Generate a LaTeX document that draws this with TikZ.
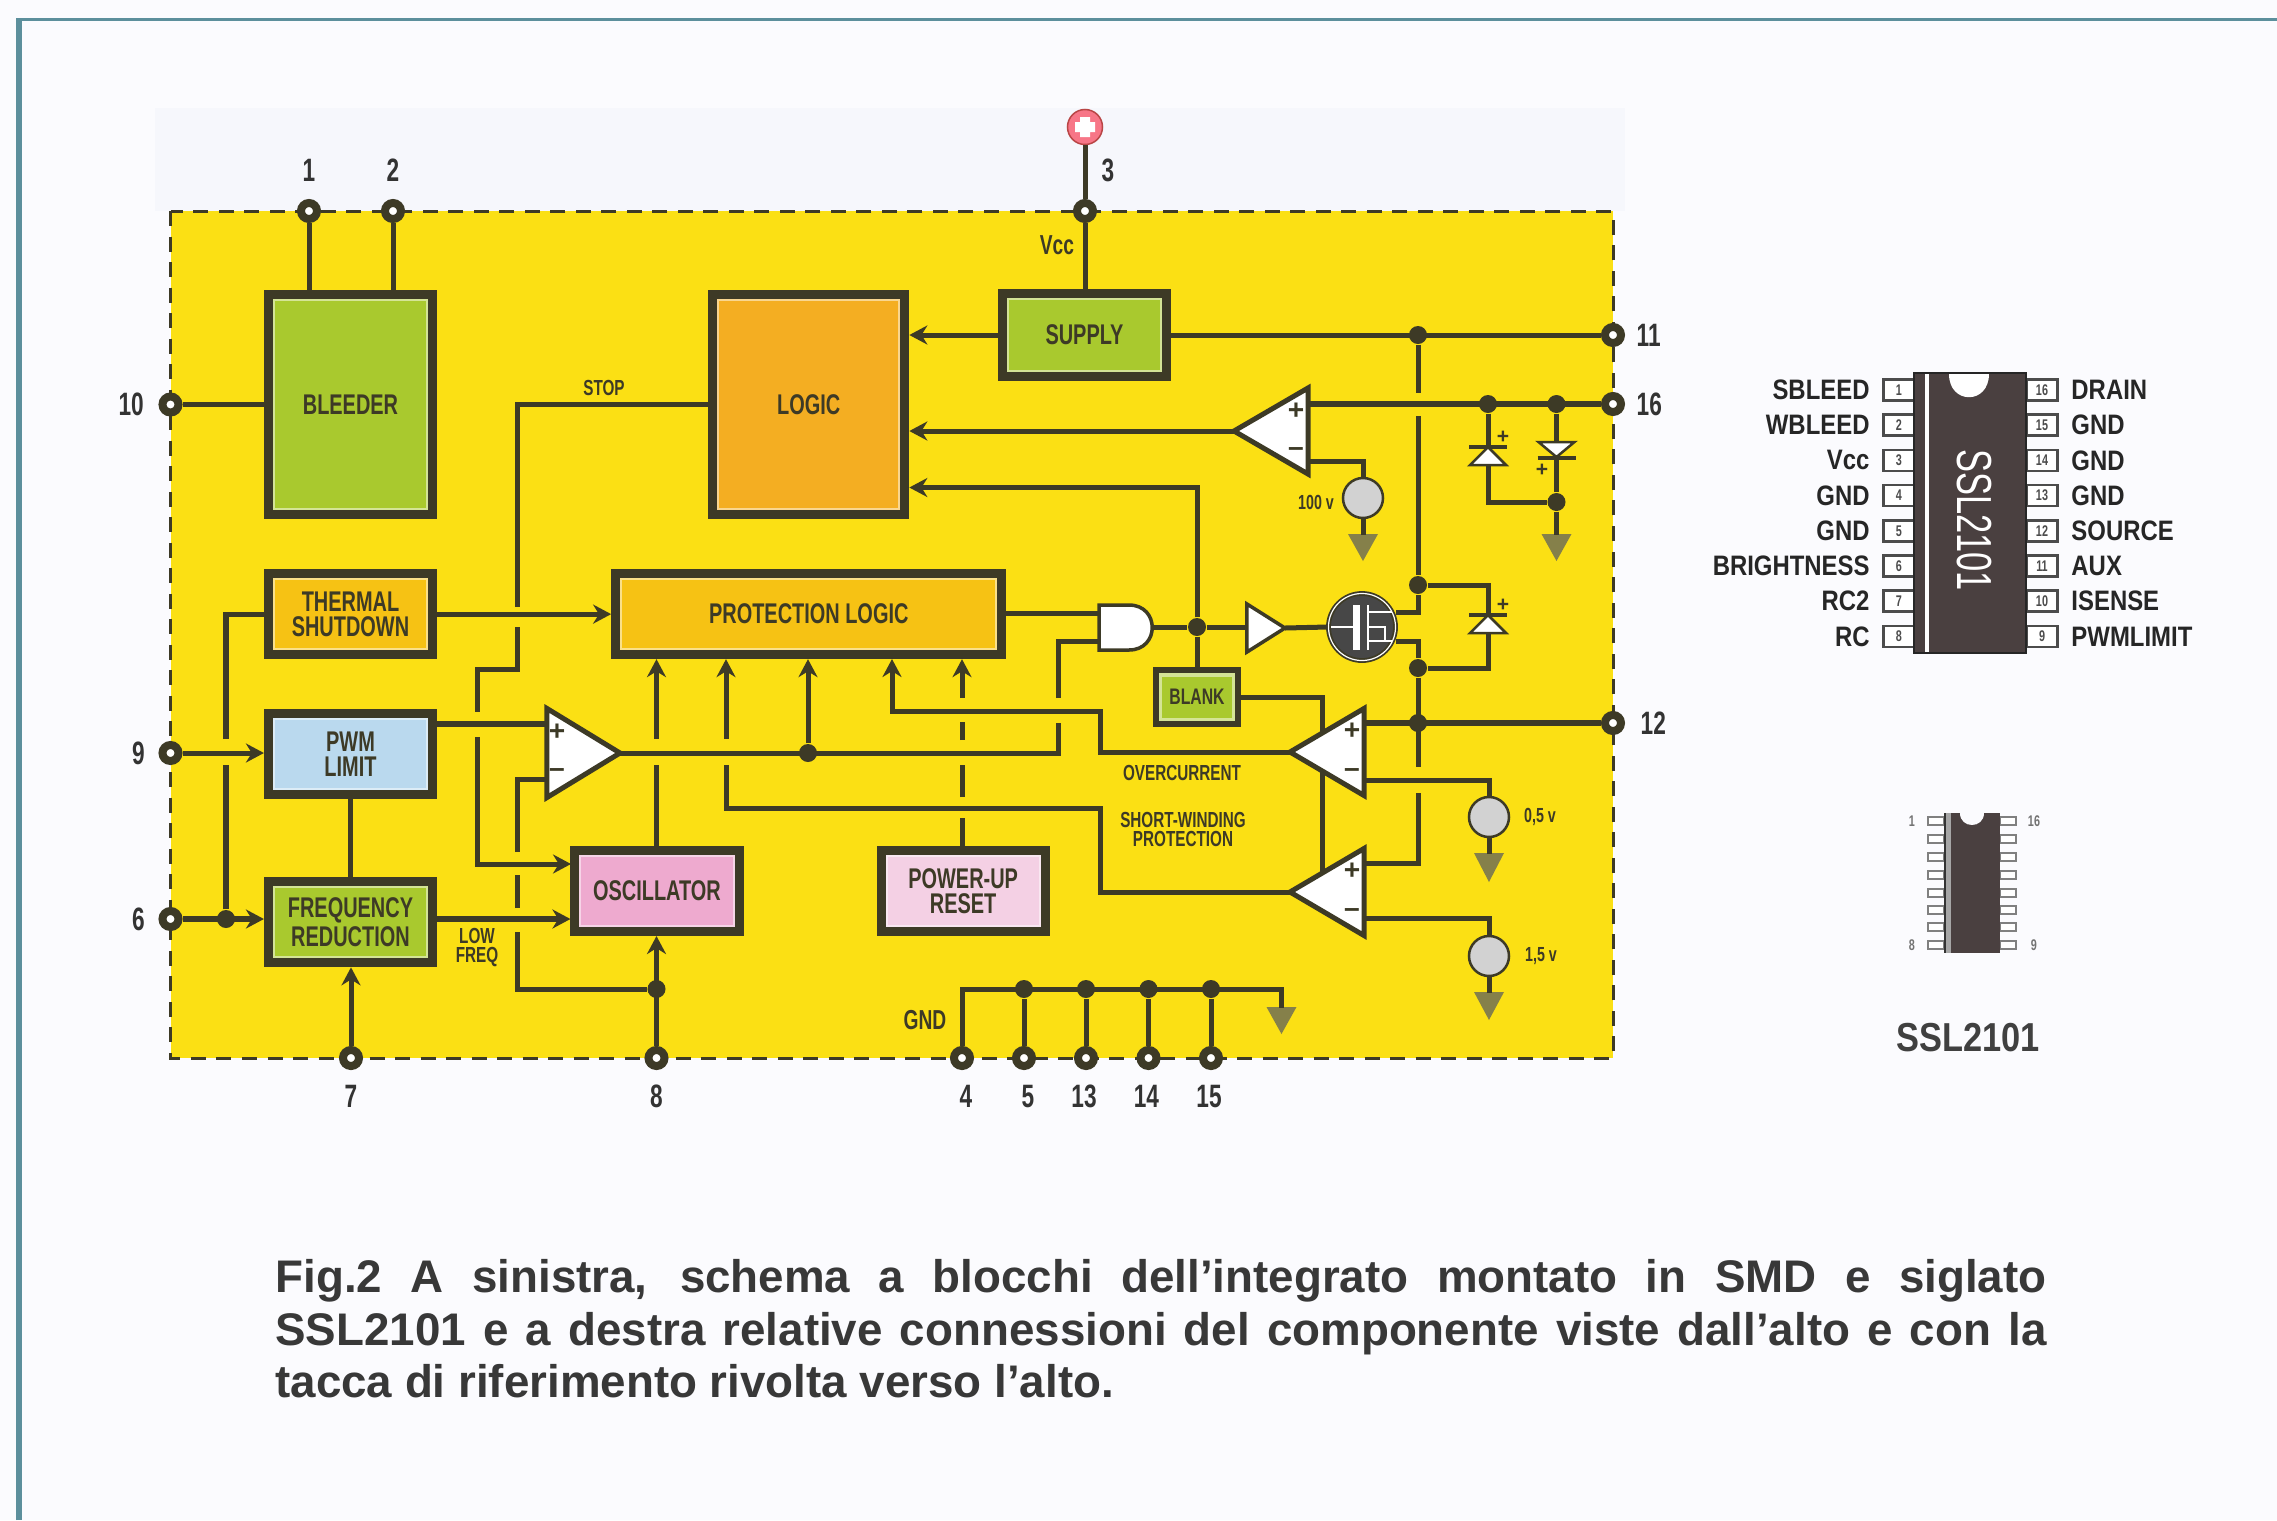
\documentclass[tikz,border=0pt]{standalone}
\usepackage{fontspec}
\setmainfont{Liberation Sans}
\newfontfamily\blockfont[FakeStretch=0.7]{Liberation Sans}
\newfontfamily\pinfont[FakeStretch=0.85]{Liberation Sans}
\usetikzlibrary{shapes.geometric, arrows.meta, positioning, calc}
\definecolor{paper}{HTML}{FBFBFE}
\definecolor{band}{HTML}{F6F7FC}
\definecolor{frameteal}{HTML}{5C8F9C}
\definecolor{chipyellow}{HTML}{FBE014}
\definecolor{ink}{HTML}{3D3A26}
\definecolor{leaf}{HTML}{A9C92E}
\definecolor{amber}{HTML}{F4AE22}
\definecolor{sun}{HTML}{F6C214}
\definecolor{sky}{HTML}{BAD9EE}
\definecolor{rose}{HTML}{EEAACF}
\definecolor{blush}{HTML}{F4D0E4}
\definecolor{earth}{HTML}{85804A}
\definecolor{plastic}{HTML}{4A4040}
\tikzset{
    base/.style={draw=ink, align=center, font=\blockfont\bfseries\fontsize{8.1}{7}\selectfont, text=ink},
    block/.style={base, rectangle, line width=.09cm, minimum width=1.64cm, minimum height=.81cm, inner sep=0pt,
        path picture={\draw [white, opacity=.5, line width=.13cm] (path picture bounding box.south west) rectangle (path picture bounding box.north east);}},
    pinhole/.style={circle, draw=ink, fill=white, line width=.08cm, minimum size=.16cm, inner sep=0pt},
    dot/.style={circle, fill=ink, minimum size=.18cm, inner sep=0pt},
    wire/.style={draw=ink, line width=.05cm},
    arrow/.style={wire, -{Stealth[length=.18cm, width=.19cm]}},
    opamp/.style={draw=ink, fill=white, line width=.05cm, isosceles triangle, isosceles triangle stretches, inner sep=0pt, outer sep=0pt, anchor=apex},
    source/.style={circle, draw=ink, fill=gray!35, line width=.025cm, minimum size=.4cm, inner sep=0pt},
    ground/.style={fill=earth},
    diode/.style={draw=ink, fill=white, line width=.025cm},
    dbar/.style={draw=ink, line width=.04cm},
    pinno/.style={font=\blockfont\bfseries\fontsize{9.2}{10}\selectfont, text=black!80, inner sep=0pt},
    tag/.style={font=\blockfont\bfseries\fontsize{7.8}{8}\selectfont, text=ink, inner sep=0pt},
    note/.style={font=\blockfont\bfseries\fontsize{6.2}{5.4}\selectfont, text=ink, inner sep=0pt, align=center},
    sign/.style={font=\bfseries\fontsize{8}{8}\selectfont, text=ink, inner sep=0pt},
    pad/.style={rectangle, draw=black!70, fill=white, line width=.025cm, minimum width=.31cm, minimum height=.21cm, inner sep=0pt, font=\blockfont\bfseries\fontsize{4.4}{5}\selectfont, text=black!70},
    padname/.style={font=\pinfont\bfseries\fontsize{8}{9}\selectfont, text=black!85, inner sep=0pt},
    lead/.style={rectangle, draw=black!50, fill=white, line width=.02cm, minimum width=.16cm, minimum height=.08cm, inner sep=0pt},
    leadno/.style={font=\blockfont\bfseries\fontsize{4.4}{5}\selectfont, text=black!55, inner sep=0pt}
}
\begin{document}
\begin{tikzpicture}[x=.01cm, y=-.01cm]
    \useasboundingbox (0,0) rectangle (2277,1520);
    % Sheet
    \fill [paper] (0,0) rectangle (2277,1520);
    \draw [frameteal, line width=.05cm] (19,1520) -- (19,18);
    \draw [frameteal, line width=.03cm] (17,19) -- (2277,19);
    \fill [band] (155,108) rectangle (1625,211);
    \draw [dashed, dash pattern=on .15cm off .105cm, draw=ink, fill=chipyellow, line width=.03cm] (170.5,211) rectangle (1613,1058);

    % Blocks
    \node (bleeder) [block, fill=leaf, minimum height=2.2cm] at (350.5,404.5) {BLEEDER};
    \node (logic) [block, fill=amber, minimum width=1.92cm, minimum height=2.2cm, right=2.71cm of bleeder] {LOGIC};
    \node (supply) [block, fill=leaf, minimum height=.82cm] at (1084.5,335) {SUPPLY};
    \node (thermal) [block, fill=sun, below=.5cm of bleeder] {THERMAL\\SHUTDOWN};
    \node (protection) [block, fill=sun, minimum width=3.86cm, below=.5cm of logic] {PROTECTION LOGIC};
    \node (pwm) [block, fill=sky, below=.5cm of thermal] {PWM\\LIMIT};
    \node (freq) [block, fill=leaf, below=.78cm of pwm] {FREQUENCY\\REDUCTION};
    \node (oscillator) [block, fill=rose] at (657,891) {OSCILLATOR};
    \node (powerup) [block, fill=blush, right=1.33cm of oscillator] {POWER-UP\\RESET};
    \node (blank) [block, fill=leaf, line width=.06cm, minimum width=.82cm, minimum height=.54cm, font=\blockfont\bfseries\fontsize{6.4}{7}\selectfont] at (1197,697) {BLANK};

    % Pins
    \node (vplus) [circle, fill=rose!55!red!85!white, draw=red!45!gray, line width=.015cm, minimum size=.35cm, inner sep=0pt] at (1085,127) {};
    \fill [white] (1080,117) rectangle (1090,137) (1075,122) rectangle (1095,132);
    \node (pin1) [pinhole] at (309,211) {};
    \node (pin2) [pinhole] at (393,211) {};
    \node (pin3) [pinhole] at (1085,211) {};
    \node (pin10) [pinhole] at (170.5,404.5) {};
    \node (pin9) [pinhole] at (170.5,753) {};
    \node (pin6) [pinhole] at (170.5,919) {};
    \node (pin11) [pinhole] at (1613,335) {};
    \node (pin16) [pinhole] at (1613,404) {};
    \node (pin12) [pinhole] at (1613,723) {};
    \node (pin7) [pinhole] at (351,1058) {};
    \node (pin8) [pinhole] at (656.5,1058) {};
    \node (pin4) [pinhole] at (962,1058) {};
    \node (pin5) [pinhole] at (1024,1058) {};
    \node (pin13) [pinhole] at (1086,1058) {};
    \node (pin14) [pinhole] at (1148.5,1058) {};
    \node (pin15) [pinhole] at (1211,1058) {};
    \node (no1) [pinno, above=.165cm of pin1] {1};
    \node (no2) [pinno, above=.165cm of pin2] {2};
    \node (no3) [pinno, above=.165cm of pin3, xshift=.23cm] {3};
    \node (no10) [pinno, left=.14cm of pin10] {10};
    \node (no9) [pinno, left=.13cm of pin9] {9};
    \node (no6) [pinno, left=.13cm of pin6] {6};
    \node (no11) [pinno, right=.11cm of pin11] {11};
    \node (no16) [pinno, right=.11cm of pin16] {16};
    \node (no12) [pinno, right=.15cm of pin12] {12};
    \node (no7) [pinno, below=.145cm of pin7] {7};
    \node (no8) [pinno, below=.145cm of pin8] {8};
    \node (no4) [pinno, below=.145cm of pin4, xshift=.04cm] {4};
    \node (no5) [pinno, below=.145cm of pin5, xshift=.04cm] {5};
    \node (no13) [pinno, below=.145cm of pin13, xshift=-.02cm] {13};
    \node (no14) [pinno, below=.145cm of pin14, xshift=-.02cm] {14};
    \node (no15) [pinno, below=.145cm of pin15, xshift=-.02cm] {15};

    % Free ends and gaps at crossings
    \coordinate (pwmc_plus) at (547,724);
    \coordinate (pwmc_minus) at (547,779);
    \coordinate (ovp_plus) at (1308,404);
    \coordinate (ovp_minus) at (1308,461);
    \coordinate (occ_plus) at (1364,723);
    \coordinate (occ_minus) at (1364,780);
    \coordinate (swp_plus) at (1364,863);
    \coordinate (swp_minus) at (1364,918);
    \coordinate (and_a) at (1099,613);
    \coordinate (and_b) at (1099,641);
    \coordinate (and_out) at (1152,627);
    \coordinate (blank_end) at (1322,885);
    \coordinate (stop_a) at (517,607);
    \coordinate (stop_b) at (517,627);
    \coordinate (stop_c) at (477,712);
    \coordinate (stop_d) at (477,737);
    \coordinate (stop_in) at (571,864);
    \coordinate (br_a) at (226,739);
    \coordinate (br_b) at (226,765);
    \coordinate (rc_a) at (517,852);
    \coordinate (rc_b) at (517,875);
    \coordinate (rc_c) at (517,908);
    \coordinate (rc_d) at (517,932);
    \coordinate (osc_a) at (656.5,765);
    \coordinate (osc_b) at (656.5,739);
    \coordinate (sw_a) at (726,765);
    \coordinate (sw_b) at (726,739);
    \coordinate (rst_a) at (962,818);
    \coordinate (rst_b) at (962,797);
    \coordinate (rst_c) at (962,765);
    \coordinate (rst_d) at (962,740);
    \coordinate (rst_e) at (962,722);
    \coordinate (rst_f) at (962,698);
    \coordinate (and_c) at (1058,723);
    \coordinate (and_d) at (1058,698);
    \coordinate (aux_a) at (1418,393);
    \coordinate (aux_b) at (1418,416);
    \coordinate (src_a) at (1418,767);
    \coordinate (src_b) at (1418,793);

    % Junctions
    \node (j_aux) [dot] at (1418,335) {};
    \node (j_drain) [dot] at (1418,585) {};
    \node (j_src) [dot] at (1418,668) {};
    \node (j_sense) [dot] at (1418,723) {};
    \node (j_da) [dot] at (1488,404) {};
    \node (j_db) [dot] at (1556.5,404) {};
    \node (j_dc) [dot] at (1556.5,502) {};
    \node (j_gate) [dot] at (1197,627) {};
    \node (j_cmp) [dot] at (808,753) {};
    \node (j_br) [dot] at (226,919) {};
    \node (j_rc) [dot] at (656.5,989) {};
    \node (j_g5) [dot] at (1024,989) {};
    \node (j_g13) [dot] at (1086,989) {};
    \node (j_g14) [dot] at (1148.5,989) {};
    \node (j_g15) [dot] at (1211,989) {};

    % Blank runs behind the comparator
    \draw [wire] (blank.east |- 0,697) -| (blank_end);

    % Comparators
    \node (pwmc) [opamp, minimum width=.89cm, minimum height=.73cm] at (620,753) {};
    \node (ovp) [opamp, shape border rotate=180, minimum width=.86cm, minimum height=.74cm] at (1234,431) {};
    \node (occ) [opamp, shape border rotate=180, minimum width=.87cm, minimum height=.74cm] at (1290,752) {};
    \node (swp) [opamp, shape border rotate=180, minimum width=.87cm, minimum height=.74cm] at (1290,892) {};
    \node (buf) [opamp, line width=.035cm, minimum width=.48cm, minimum height=.38cm] at (1285,628) {};
    \node (s1) [sign] at (557,732) {+};
    \node (s2) [sign] at (557,773) {--};
    \node (s3) [sign] at (1296,411) {+};
    \node (s4) [sign] at (1296,452) {--};
    \node (s5) [sign] at (1352,731) {+};
    \node (s6) [sign] at (1352,773) {--};
    \node (s7) [sign] at (1352,871) {+};
    \node (s8) [sign] at (1352,913) {--};

    % Sources
    \node (v100) [source] at (1363,498) {};
    \node (v05) [source] at (1489,817) {};
    \node (v15) [source] at (1489,956) {};
    \fill [ground] (1348,534) -- ++(30,0) -- ++(-15,27) -- cycle;
    \fill [ground] (1474,853) -- ++(30,0) -- ++(-15,29) -- cycle;
    \fill [ground] (1474,992) -- ++(30,0) -- ++(-15,28) -- cycle;
    \fill [ground] (1541.5,534) -- ++(30,0) -- ++(-15,27) -- cycle;
    \fill [ground] (1266.5,1007) -- ++(30,0) -- ++(-15,27) -- cycle;

    % Bleeder and supply flows
    \draw [wire] (pin1) -- (pin1 |- bleeder.north);
    \draw [wire] (pin2) -- (pin2 |- bleeder.north);
    \draw [wire] (pin10) -- (bleeder.west);
    \draw [wire] (vplus) -- (pin3);
    \draw [wire] (pin3) -- (pin3 |- supply.north);
    \draw [arrow] (supply.west) -- (supply.west -| logic.east);
    \draw [wire] (supply.east) -- (pin11);

    % Thermal and stop flows
    \draw [arrow] (thermal.east) -- (protection.west);
    \draw [wire] (logic.west) -| (stop_a);
    \draw [wire] (stop_b) -- (517,669) -| (stop_c);
    \draw [arrow] (stop_d) |- (stop_in);
    \draw [wire] (j_br) -- (br_b);
    \draw [wire] (br_a) |- (thermal.west);

    % Inputs on the left
    \draw [arrow] (pin9) -- (pin9 -| pwm.west);
    \draw [arrow, line width=.06cm] (pin6) -- (pin6 -| freq.west);
    \draw [wire] (pwm.south) -- (freq.north);
    \draw [arrow] (pin7) -- (pin7 |- freq.south);
    \draw [arrow] (pin8) -- (pin8 |- oscillator.south);
    \draw [arrow, line width=.06cm] (pin6 -| freq.east) -- (pin6 -| oscillator.west);
    \draw [wire, line width=.06cm] (pwm.east |- pwmc_plus) -- (pwmc_plus);

    % Oscillator feed to the comparator
    \draw [wire] (j_rc) -| (rc_d);
    \draw [wire] (rc_c) -- (rc_b);
    \draw [wire] (rc_a) |- (pwmc_minus);

    % Protection inputs
    \draw [wire] (osc_a |- oscillator.north) -- (osc_a);
    \draw [arrow] (osc_b) -- (osc_b |- protection.south);
    \draw [arrow] (j_cmp) -- (j_cmp |- protection.south);
    \draw [wire] (pwmc.apex) -- (1058,753) -- (and_c);
    \draw [wire] (and_d) |- (and_b);
    \draw [arrow] (occ.apex) -| (1100.5,711) -| (892,659);
    \draw [wire] (swp.apex) -| (1100.5,808) -| (sw_a);
    \draw [arrow] (sw_b) -- (sw_b |- protection.south);
    \draw [wire] (rst_a |- powerup.north) -- (rst_a);
    \draw [wire] (rst_b) -- (rst_c);
    \draw [wire] (rst_d) -- (rst_e);
    \draw [arrow] (rst_f) -- (rst_f |- protection.south);

    % Gate drive
    \draw [wire] (protection.east |- and_a) -- (and_a);
    \draw [diode, line width=.035cm] (1099,605) -- (1129,605) .. controls (1160,605) and (1160,650) .. (1129,650) -- (1099,650) -- cycle;
    \draw [wire] (and_out) -- (j_gate);
    \draw [wire] (j_gate) -- (buf.left corner |- j_gate);
    \draw [arrow] (j_gate) |- (logic.east |- 0,487.5);
    \draw [wire] (j_gate) -- (j_gate |- blank.north);
    \draw [arrow] (ovp.apex) -- (logic.east |- ovp.apex);
    \draw [wire, line width=.06cm] (ovp_plus) -- (pin16);
    \draw [wire] (ovp_minus) -| (v100);
    \draw [wire] (v100) -- (1363,535);

    % Power switch
    \node (mosfet) [circle, draw=ink, fill=black!72, double=white, double distance=.012cm, line width=.018cm, minimum size=.67cm, inner sep=0pt] at (1362,627) {};
    \draw [wire] (buf.apex) -- (mosfet.west);
    \draw [white, line width=.07cm] (1356,605) -- (1356,650);
    \draw [white, line width=.02cm] (1331,627) -- (1356,627);
    \draw [white, line width=.025cm] (1368,605) -- (1368,650) (1368,612) -- (1392,612) (1368,641) -- (1392,641) (1368,627) -- (1385,627) -- (1385,641);
    \draw [wire] (mosfet.east |- 0,612) -| (j_drain);
    \draw [wire] (mosfet.east |- 0,641) -| (j_src);

    % Rails
    \draw [wire] (j_aux) -- (aux_a);
    \draw [wire] (aux_b) -- (j_drain);
    \draw [wire] (j_src) -- (src_a);
    \draw [wire] (src_b) |- (swp_plus);
    \draw [wire, line width=.06cm] (occ_plus) -- (pin12);
    \draw [wire] (occ_minus) -| (v05);
    \draw [wire] (v05) -- (1489,854);
    \draw [wire] (swp_minus) -| (v15);
    \draw [wire] (v15) -- (1489,993);

    % Clamp diodes
    \draw [wire] (j_da) |- (j_dc);
    \draw [wire] (j_db) -- (j_dc);
    \draw [wire] (j_dc) -- (1556.5,535);
    \draw [wire] (j_drain) -| (1488,668) -- (j_src);
    \draw [diode] (1488,447) -- (1506,465) -- (1470,465) -- cycle;
    \draw [dbar] (1469,447) -- (1507,447);
    \draw [diode] (1556.5,457) -- (1538.5,442) -- (1574.5,442) -- cycle;
    \draw [dbar] (1537.5,458) -- (1575.5,458);
    \draw [diode] (1488,615) -- (1506,633) -- (1470,633) -- cycle;
    \draw [dbar] (1469,615) -- (1507,615);
    \node (d1) [sign, font=\bfseries\fontsize{6}{6}\selectfont] at (1503,437) {+};
    \node (d2) [sign, font=\bfseries\fontsize{6}{6}\selectfont] at (1542,470) {+};
    \node (d3) [sign, font=\bfseries\fontsize{6}{6}\selectfont] at (1503,605) {+};

    % Ground bus
    \draw [wire] (pin4) |- (1281.5,989) -- (1281.5,1008);
    \draw [wire] (pin5) -- (j_g5);
    \draw [wire] (pin13) -- (j_g13);
    \draw [wire] (pin14) -- (j_g14);
    \draw [wire] (pin15) -- (j_g15);

    % Labels
    \node (vcc) [tag] at (1057,245) {Vcc};
    \node (gnd) [tag] at (925,1020) {GND};
    \node (stop) [note] at (604,388) {STOP};
    \node (lowfreq) [note] at (477,948) {LOW\\FREQ};
    \node (over) [note] at (1182,773) {OVERCURRENT};
    \node (short) [note] at (1183,829) {SHORT-WINDING\\PROTECTION};
    \node (l100) [note, font=\blockfont\bfseries\fontsize{5.8}{6}\selectfont] at (1316,502) {100 v};
    \node (l05) [note, font=\blockfont\bfseries\fontsize{5.8}{6}\selectfont] at (1540,817) {0,5 v};
    \node (l15) [note, font=\blockfont\bfseries\fontsize{5.8}{6}\selectfont] at (1541,956) {1,5 v};

    % Pinout
    \foreach \pinno/\pinname [count=\row from 0] in {1/SBLEED, 2/WBLEED, 3/Vcc, 4/GND, 5/GND, 6/BRIGHTNESS, 7/RC2, 8/RC} {
        \node (padl\pinno) [pad] at (1899,{390+35.2*\row}) {\pinno};
        \node (namel\pinno) [padname, left=.12cm of padl\pinno] {\pinname};
    }
    \foreach \pinno/\pinname [count=\row from 0] in {16/DRAIN, 15/GND, 14/GND, 13/GND, 12/SOURCE, 11/AUX, 10/ISENSE, 9/PWMLIMIT} {
        \node (padr\pinno) [pad] at (2042,{390+35.2*\row}) {\pinno};
        \node (namer\pinno) [padname, right=.12cm of padr\pinno] {\pinname};
    }
    \node (chip) [rectangle, fill=plastic, draw=black!85, line width=.02cm, minimum width=1.12cm, minimum height=2.8cm, inner sep=0pt] at (1970,513) {};
    \fill [white] (1925,374) rectangle (1929,652);
    \fill [white] (1949,374) .. controls (1949,405) and (1989,405) .. (1989,374) -- cycle;
    \node (chipname) [rotate=-90, text=white, inner sep=0pt, font=\blockfont\fontsize{14}{15}\selectfont] at (1974,520) {SSL2101};

    % Small package
    \foreach \row in {821,839,857,875,893,910,927,945} {
        \node (leadl\row) [lead] at (1936,\row) {};
        \node (leadr\row) [lead] at (2008,\row) {};
    }
    \node (body) [rectangle, fill=plastic, minimum width=.56cm, minimum height=1.4cm, inner sep=0pt] at (1972,883) {};
    \fill [black!80] (1944,813) rectangle (1950,953);
    \fill [black!35] (1946,813) rectangle (1951,953);
    \fill [paper] (1960,813) .. controls (1960,829) and (1984,829) .. (1984,813) -- cycle;
    \node (lead1) [leadno] at (1912,821) {1};
    \node (lead16) [leadno] at (2034,821) {16};
    \node (lead8) [leadno] at (1912,945) {8};
    \node (lead9) [leadno] at (2034,945) {9};
    \node (title) [font=\pinfont\bfseries\fontsize{11.5}{13}\selectfont, text=black!75, inner sep=0pt] at (1968,1038) {SSL2101};

    % Caption
    \node (caption) [text width=17.7cm, align=justify, inner sep=0pt, text=black!78, font=\bfseries\fontsize{13}{14.9}\selectfont] at (1161,1329)
        {Fig.2 A sinistra, schema a blocchi dell’integrato montato in SMD e siglato\linebreak
        SSL2101 e a destra relative connessioni del componente viste dall’alto e con la\linebreak
        tacca di riferimento rivolta verso l’alto.};
\end{tikzpicture}
\end{document}
